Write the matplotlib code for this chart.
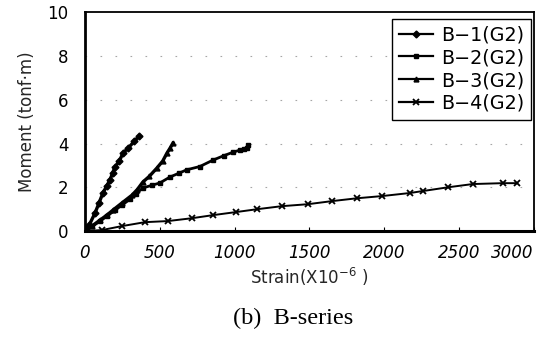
import matplotlib
matplotlib.use("Agg")
import matplotlib.pyplot as plt

# strain (x10^-6) vs moment (tonf*m) readings for each specimen
b1_strain = [0, 30, 67, 95, 120, 145, 167, 185, 200, 230, 254, 290, 330, 361]
b1_moment = [0, 0.3, 0.82, 1.3, 1.74, 2.05, 2.33, 2.65, 2.92, 3.2, 3.56, 3.8, 4.1, 4.34]

b2_strain = [0, 50, 100, 150, 200, 250, 300, 340, 387, 450, 501, 568, 630, 680,
             768, 855, 930, 989, 1035, 1060, 1085, 1090]
b2_moment = [0, 0.22, 0.45, 0.7, 0.95, 1.2, 1.45, 1.7, 1.97, 2.1, 2.2, 2.47, 2.65, 2.8,
             2.95, 3.24, 3.45, 3.6, 3.7, 3.75, 3.78, 3.92]

b3_strain = [0, 50, 100, 150, 187, 250, 314, 350, 387, 430, 481, 520, 548, 570, 588]
b3_moment = [0, 0.25, 0.5, 0.75, 0.96, 1.3, 1.64, 1.9, 2.24, 2.5, 2.88, 3.2, 3.56, 3.8, 4.02]

b4_strain = [0, 114, 247, 401, 554, 715, 855, 1009, 1149, 1316, 1490, 1650, 1817,
             1984, 2171, 2258, 2425, 2592, 2792, 2886]
b4_moment = [0, 0.05, 0.23, 0.41, 0.46, 0.59, 0.73, 0.87, 1.0, 1.14, 1.23, 1.37, 1.5,
             1.6, 1.74, 1.83, 2.0, 2.15, 2.19, 2.19]

labels = ["B−1(G2)", "B−2(G2)", "B−3(G2)", "B−4(G2)"]
x_ticks = [0, 500, 1000, 1500, 2000, 2500, 3000]
y_ticks = [0, 2, 4, 6, 8, 10]

fig = plt.figure(figsize=(5.48, 3.45), dpi=100)
ax = fig.add_axes([0.155, 0.330, 0.819, 0.635])

ax.plot(b1_strain, b1_moment, color="black", lw=2.4, marker="D", ms=3.5, label=labels[0])
ax.plot(b2_strain, b2_moment, color="black", lw=2.0, marker="s", ms=3.5, label=labels[1])
ax.plot(b3_strain, b3_moment, color="black", lw=2.4, marker="^", ms=3.5, label=labels[2])
ax.plot(b4_strain, b4_moment, color="black", lw=1.4, marker="x", ms=4, mew=1.3, label=labels[3])

ax.set_xlim(0, 3000)
ax.set_ylim(0, 10)
ax.set_xticks(x_ticks)
ax.set_yticks(y_ticks)
ax.set_xticklabels([str(v) for v in x_ticks], fontstyle="italic", fontsize=12)
ax.set_yticklabels([str(v) for v in y_ticks], fontsize=12)
ax.get_xticklabels()[-1].set_horizontalalignment("right")
ax.get_xticklabels()[-1].set_x(3030)

ax.tick_params(axis="x", direction="in", length=3, width=0.8, pad=9)
ax.tick_params(axis="y", length=0, pad=12)

# sparse dotted gridlines
for y in y_ticks[1:-1]:
    ax.axhline(y, color="0.65", lw=0.8, ls=(0, (1.5, 12)), zorder=0)

ax.spines["left"].set_linewidth(2.0)
ax.spines["bottom"].set_linewidth(2.2)
ax.spines["top"].set_linewidth(1.3)
ax.spines["right"].set_linewidth(1.3)

ax.set_ylabel("Moment (tonf·m)", fontsize=12, labelpad=8, color="0.15")
ax.set_xlabel("Strain(X10$^{-6}$ )", fontsize=12, labelpad=3, color="0.15")

leg = ax.legend(loc="upper right", bbox_to_anchor=(0.994, 0.97), fontsize=13.8,
                handlelength=1.8, handletextpad=0.4, labelspacing=0.2,
                borderpad=0.35, borderaxespad=0.0, fancybox=False, framealpha=1)
leg.get_frame().set_edgecolor("black")
leg.get_frame().set_linewidth(1.0)
for line in leg.get_lines():
    line.set_linewidth(1.6)

fig.text(0.535, 0.078, "(b)  B-series", ha="center", va="center",
         family="Liberation Serif", fontsize=17.5)

fig.savefig("out.png", dpi=100)
